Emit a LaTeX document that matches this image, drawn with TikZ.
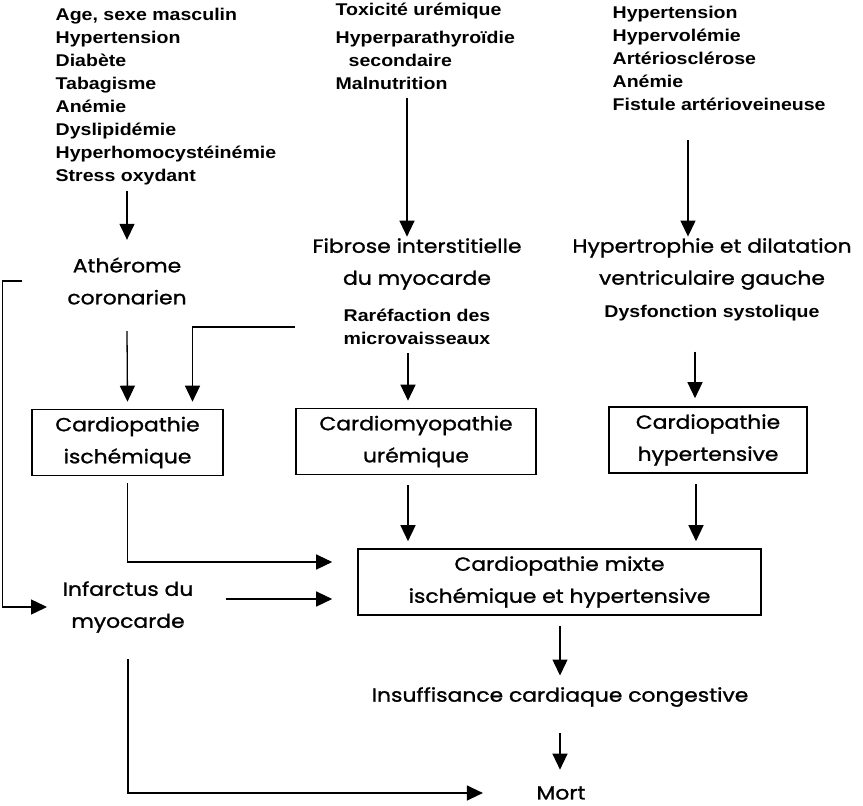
\documentclass[tikz,border=0pt]{standalone}
\usepackage{fontspec}
\setmainfont{Poppins}[FakeStretch=1.15,FakeBold=1.2]
\newfontfamily\listfont{Liberation Sans}[FakeStretch=1.15]
\usetikzlibrary{arrows.meta,positioning}
\tikzstyle{cause}=[font=\listfont\bfseries\fontsize{17}{23}\selectfont, align=left, inner sep=0pt, anchor=base west]
\tikzstyle{state}=[font=\fontsize{19}{32}\selectfont, align=center, inner sep=0pt]
\tikzstyle{sub}=[font=\listfont\bfseries\fontsize{17}{23}\selectfont, align=center, inner sep=0pt]
\tikzstyle{box}=[state, draw, line width=1.6pt, minimum height=66pt]

\begin{document}
\begin{tikzpicture}[->,>={Triangle[length=16pt,width=15pt]}, x=1pt, y=-1pt, line width=1.3pt]
\useasboundingbox (0,0) rectangle (863,806);
% facteurs de risque
\node [cause] (risk) at (55,181) {Age, sexe masculin\\Hypertension\\Diab\`ete\\Tabagisme\\An\'emie\\Dyslipid\'emie\\Hyperhomocyst\'ein\'emie\\Stress oxydant};
\node [cause] (uremie) at (335,89) {Toxicit\'e ur\'emique\\[5pt]Hyperparathyro\"idie\\\hspace*{13pt}secondaire\\Malnutrition};
\node [cause] (surcharge) at (612,110) {Hypertension\\Hypervol\'emie\\Art\'erioscl\'erose\\An\'emie\\Fistule art\'erioveineuse};
% lesions
\node [state] (athero) at (127,281) {Ath\'erome\\coronarien};
\node [state] (fibrose) at (417,264) {Fibrose interstitielle\\du myocarde};
\node [sub] (rare) at (417,327) {Rar\'efaction des\\microvaisseaux};
\node [state] (hvg) at (712,264) {Hypertrophie et dilatation\\ventriculaire gauche};
\node [sub] (dysf) at (712,313) {Dysfonction systolique};
% cardiopathies
\node [box, minimum width=191pt] (cpi) at (127.5,442.5) {Cardiopathie\\isch\'emique};
\node [box, minimum width=240pt] (cmu) at (416,441.5) {Cardiomyopathie\\ur\'emique};
\node [box, minimum width=198pt] (cph) at (708,440) {Cardiopathie\\hypertensive};
\node [box, minimum width=403pt] (mixte) at (559.5,582) {Cardiopathie mixte\\isch\'emique et hypertensive};
\node [state] (idm) at (128,607) {Infarctus du\\myocarde};
\node [state] (icc) at (560,697) {Insuffisance cardiaque congestive};
\node [state] (mort) at (561,793) {Mort};
% fleches
\draw ([yshift=-6pt]risk.south -| athero) -- ([yshift=17pt]athero.north);
\draw ([yshift=-8pt]uremie.south -| 407,0) -- ([yshift=1pt]fibrose.north -| 407,0);
\draw ([yshift=-29pt]surcharge.south -| 688,0) -- ([yshift=1pt]hvg.north -| 688,0);
\draw ([yshift=-26pt]athero.south) -- ([yshift=7pt]cpi.north);
\draw ([xshift=-48pt]rare.west) -| ([xshift=65pt,yshift=7pt]cpi.north);
\draw ([yshift=-8pt]rare.south -| 408,0) -- ([yshift=7pt]cmu.north -| 408,0);
\draw ([yshift=-30pt]dysf.south -| 695,0) -- ([yshift=8pt]cph.north -| 695,0);
\draw ([xshift=-45pt]athero.west) -- ++(-19,0) |- ([xshift=-15pt]idm.west);
\draw ([yshift=-7pt]cpi.south) |- ([xshift=-25pt,yshift=20pt]mixte.west);
\draw ([xshift=32pt]idm.east |- mixte.west) ++(0,17) -- ([xshift=-25pt,yshift=-17pt]mixte.west);
\draw ([yshift=-10pt]cmu.south -| 408,0) -- ([yshift=7pt]mixte.north -| 408,0);
\draw ([yshift=-10pt]cph.south -| 696,0) -- ([yshift=7pt]mixte.north -| 696,0);
\draw ([yshift=-10pt]mixte.south -| icc) -- ([yshift=11pt]icc.north);
\draw ([yshift=-26pt]icc.south) -- ([yshift=16pt]mort.north -| icc);
\draw ([yshift=-26pt]idm.south) |- ([xshift=-53pt]mort.west);
\end{tikzpicture}
\end{document}
